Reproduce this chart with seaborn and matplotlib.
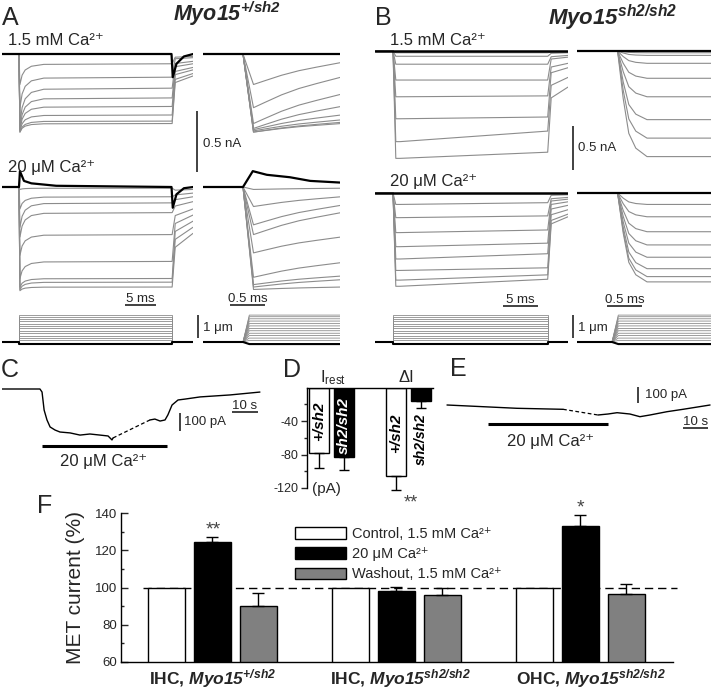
import matplotlib
matplotlib.use("Agg")
import matplotlib.pyplot as plt
from matplotlib.patches import Patch
import numpy as np
import pandas as pd
import seaborn as sns

# ------------------------------------------------------------------ data
# Panel A (Myo15 +/sh2): MET currents in nA (negative = inward), time in ms
A_hi_peak   = [-0.25, -0.44, -0.57, -0.61, -0.62, -0.63, -0.64, -0.64]
A_hi_steady = [-0.08, -0.19, -0.28, -0.36, -0.43, -0.50, -0.55, -0.57]
A_hi_tail   = [-0.02, -0.03, -0.06, -0.08, -0.11, -0.13, -0.16, -0.18]
A_hi_end    = [-0.07, -0.19, -0.33, -0.43, -0.50, -0.54, -0.56, -0.57]
A_lo_peak   = [-0.02, -0.18, -0.33, -0.41, -0.56, -0.75, -0.82, -0.84, -0.85]
A_lo_steady = [-0.01, -0.08, -0.13, -0.21, -0.39, -0.61, -0.75, -0.78, -0.82]
A_lo_tail   = [-0.02, -0.05, -0.08, -0.12, -0.18, -0.23, -0.28, -0.33, -0.38]
A_lo_speak  = [-0.02, -0.16, -0.31, -0.39, -0.54, -0.74, -0.80, -0.82, -0.84]
A_lo_end    = [-0.01, -0.08, -0.15, -0.21, -0.41, -0.62, -0.73, -0.76, -0.82]
A_hi_black_t  = [-2.8, 24.6, 24.8, 25.4, 26.6, 28.1]
A_hi_black_i  = [0.0, 0.0, -0.19, -0.08, -0.02, 0.0]
A_lo_black_t  = [-2.8, 0.0, 0.15, 0.8, 2.0, 6.0, 24.6, 24.8, 25.4, 26.6, 28.1]
A_lo_black_i  = [0.0, 0.0, 0.13, 0.05, 0.03, 0.01, 0.0, -0.17, -0.06, -0.01, 0.0]
A_lo_sblack_t = [-0.6, 0.0, 0.14, 0.34, 0.67, 0.96, 1.4]
A_lo_sblack_i = [0.0, 0.0, 0.13, 0.10, 0.08, 0.05, 0.036]

# Panel B (Myo15 sh2/sh2)
B_hi_start = [-0.02, -0.06, -0.15, -0.33, -0.52, -0.77, -1.03, -1.22]
B_hi_endv  = [-0.02, -0.06, -0.15, -0.33, -0.51, -0.75, -0.91, -1.15]
B_hi_tail  = [-0.01, -0.02, -0.05, -0.07, -0.14, -0.19, -0.30, -0.41]
B_hi_short = [-0.02, -0.05, -0.14, -0.31, -0.52, -0.78, -0.99, -1.20]
B_lo_start = [-0.13, -0.28, -0.45, -0.61, -0.75, -0.88, -0.99, -1.06]
B_lo_endv  = [-0.11, -0.26, -0.42, -0.57, -0.69, -0.85, -0.93, -0.98]
B_lo_tail  = [-0.02, -0.05, -0.07, -0.10, -0.14, -0.19, -0.24, -0.27]
B_lo_short = [-0.13, -0.27, -0.44, -0.59, -0.73, -0.86, -0.95, -1.01]

# hair-bundle displacement steps (um)
STEP_UM = [0.07, 0.17, 0.28, 0.38, 0.49, 0.59, 0.70, 0.80, 0.91, 1.01, 1.10, 1.17]
NEG_STEP_UM = -0.09
A_STEP_MS = 24.7
B_STEP_MS = 22.1

# time courses
LONG_T = [0.15, 0.5, 1.0, 2.0, 4.0]          # adaptation, fraction remaining
LONG_F = [1.0, 0.55, 0.30, 0.12, 0.03]
SHORT_T = [0.15, 0.3, 0.55, 0.8, 1.05, 1.4]
SHORT_F = [1.0, 0.84, 0.58, 0.37, 0.21, 0.0]
B_SHORT_T = [0.08, 0.16, 0.24, 0.34, 0.5, 1.45]  # activation, fraction of final
B_SHORT_F = [0.0, 0.45, 0.78, 0.92, 1.0, 1.0]

# Panel C: resting current (pA) vs time (s)
C_t1 = [0.0, 14.6, 15.4, 16.2, 17.3, 18.5, 20.4, 22.3, 26.2, 30.0, 33.8, 37.7, 40.8, 42.3, 42.7]
C_i1 = [0, 0, -17, -117, -172, -211, -228, -239, -244, -256, -250, -256, -261, -283, -272]
C_t2 = [56.9, 58.8, 60.8, 62.7, 63.8, 65.4, 67.7, 70.4, 76.2, 87.7, 99.2]
C_i2 = [-172, -167, -178, -172, -144, -89, -61, -56, -44, -33, -17]
# Panel E
E_t1 = [0.0, 15.5, 30.0, 49.8]
E_i1 = [0.0, -10.6, -20.6, -26.9]
E_t2 = [64.8, 69.1, 73.0, 78.5, 82.8, 87.1, 94.4, 101.3, 112.9]
E_i2 = [-62.5, -56.3, -48.1, -56.3, -73.1, -62.5, -41.9, -26.9, 0.0]

# Panel D (pA)
D_measure = ["Irest", "Irest", "dI", "dI"]
D_geno = ["+/sh2", "sh2/sh2", "+/sh2", "sh2/sh2"]
D_mean = [-78, -83, -106, -16]
D_sem = [18, 16, 16, 8]

# Panel F (%)
F_cells = ["IHC, +/sh2", "IHC, sh2/sh2", "OHC, sh2/sh2"]
CA_HI = "1.5 mM Ca\u00b2\u207a"
CA_LO = "20 \u03bcM Ca\u00b2\u207a"
F_conds = ["Control, 1.5 mM Ca\u00b2\u207a", CA_LO, "Washout, 1.5 mM Ca\u00b2\u207a"]
F_control = [100.0, 100.0, 100.0]
F_low = [124.4, 98.1, 133.0]
F_wash = [90.0, 96.0, 96.3]
F_low_sem = [2.6, 2.3, 5.8]
F_wash_sem = [6.9, 3.6, 5.4]

# ------------------------------------------------------------------ style
sns.set_theme(context="paper", style="white")
plt.rcParams.update({
    "font.family": ["Liberation Sans", "DejaVu Sans"],
    "mathtext.fontset": "custom",
    "mathtext.rm": "Liberation Sans",
    "mathtext.it": "Liberation Sans:italic",
    "mathtext.bf": "Liberation Sans:bold",
    "axes.unicode_minus": False,
})
try:
    plt.rcParams["mathtext.bfit"] = "Liberation Sans:italic:bold"
except KeyError:
    pass

GREY = "#8c8c8c"
W, H = 711, 689
fig = plt.figure(figsize=(W / 100, H / 100), dpi=100)
ov = fig.add_axes([0, 0, 1, 1])
ov.set_xlim(0, W); ov.set_ylim(H, 0); ov.axis("off"); ov.set_zorder(10)


def pax(x0, y0, x1, y1):
    return fig.add_axes([x0 / W, 1 - y1 / H, (x1 - x0) / W, (y1 - y0) / H])


def set_px_limits(ax, x0, x1, y0, y1, xt0, sx, yb, sy):
    ax.set_xlim((x0 - xt0) / sx, (x1 - xt0) / sx)
    ax.set_ylim(-(y1 - yb) / sy, (yb - y0) / sy)
    ax.axis("off")


def lines(ax, df, color, lw, **kw):
    sns.lineplot(data=df, x="t", y="i", units="trace", estimator=None, sort=False,
                 color=color, linewidth=lw, ax=ax, legend=False, **kw)


def single(t, i):
    return pd.DataFrame({"t": t, "i": i, "trace": 0})


def long_df(peak, s0, s1, tail, step_end, tlim, rt=LONG_T, rf=LONG_F):
    rows = []
    for k in range(len(s0)):
        ts = [tlim[0], 0.0]; vs = [0.0, 0.0]
        for tt, ff in zip(rt, rf):
            ts.append(tt); vs.append(s0[k] + (peak[k] - s0[k]) * ff)
        ts += [step_end, step_end + 0.5, tlim[1]]
        vs += [s1[k], tail[k] * 1.3, tail[k]]
        rows += [dict(t=a, i=b, trace=k) for a, b in zip(ts, vs)]
    return pd.DataFrame(rows)


def short_adapt_df(peak, end, tlim):
    rows = []
    for k in range(len(end)):
        ts = [tlim[0], 0.0] + SHORT_T
        vs = [0.0, 0.0] + [end[k] + (peak[k] - end[k]) * f for f in SHORT_F]
        rows += [dict(t=a, i=b, trace=k) for a, b in zip(ts, vs)]
    return pd.DataFrame(rows)


def short_act_df(end, tlim):
    rows = []
    for k in range(len(end)):
        ts = [tlim[0]] + B_SHORT_T
        vs = [0.0] + [end[k] * f for f in B_SHORT_F]
        rows += [dict(t=a, i=b, trace=k) for a, b in zip(ts, vs)]
    return pd.DataFrame(rows)


def stim_long(steps, step_end, tlim):
    rows = []
    for k, d in enumerate(steps):
        ts = [tlim[0], 0, 0, step_end, step_end, tlim[1]]
        vs = [0, 0, d, d, 0, 0]
        rows += [dict(t=a, i=b, trace=k) for a, b in zip(ts, vs)]
    return pd.DataFrame(rows)


def stim_short(steps, tlim):
    rows = []
    for k, d in enumerate(steps):
        ts = [tlim[0], 0.0, 0.09, tlim[1]]
        vs = [0, 0, d, d]
        rows += [dict(t=a, i=b, trace=k) for a, b in zip(ts, vs)]
    return pd.DataFrame(rows)


# --------------------------------------------------------- panel A traces
geomA = dict(long=(2, 193, 19, 6.2), short=(203, 340, 243, 70.0))
geomB = dict(long=(375, 568, 393, 7.0), short=(577, 711, 612, 70.0))


def tl(g):
    x0, x1, xt0, sx = g
    return ((x0 - xt0) / sx, (x1 - xt0) / sx)


# A, 1.5 mM long
ax = pax(2, 40, 193, 140)
lines(ax, long_df(A_hi_peak, A_hi_steady, A_hi_steady, A_hi_tail, A_STEP_MS, tl(geomA["long"])), GREY, 0.8)
lines(ax, single(A_hi_black_t, A_hi_black_i), "black", 1.6)
set_px_limits(ax, 2, 193, 40, 140, 19, 6.2, 54, 122)
# A, 1.5 mM short
ax = pax(203, 40, 340, 140)
lines(ax, short_adapt_df(A_hi_peak, A_hi_end, tl(geomA["short"])), GREY, 0.8)
lines(ax, single(list(tl(geomA["short"])), [0, 0]), "black", 1.6)
set_px_limits(ax, 203, 340, 40, 140, 243, 70, 54, 122)
# A, 20 uM long
ax = pax(2, 165, 193, 300)
lines(ax, long_df(A_lo_peak, A_lo_steady, A_lo_steady, A_lo_tail, A_STEP_MS, tl(geomA["long"])), GREY, 0.8)
lines(ax, single(A_lo_black_t, A_lo_black_i), "black", 1.6)
set_px_limits(ax, 2, 193, 165, 300, 19, 6.2, 187, 122)
# A, 20 uM short
ax = pax(203, 165, 340, 300)
lines(ax, short_adapt_df(A_lo_speak, A_lo_end, tl(geomA["short"])), GREY, 0.8)
lines(ax, single(A_lo_sblack_t, A_lo_sblack_i), "black", 1.6)
set_px_limits(ax, 203, 340, 165, 300, 243, 70, 187, 122)

# --------------------------------------------------------- panel B traces
ax = pax(375, 40, 568, 175)
lines(ax, long_df(B_hi_start, B_hi_start, B_hi_endv, B_hi_tail, B_STEP_MS, tl(geomB["long"]),
                  rt=[0.4, 1.0], rf=[1.0, 1.0]), GREY, 0.8)
lines(ax, single(list(tl(geomB["long"])), [0, 0]), "black", 1.8)
set_px_limits(ax, 375, 568, 40, 175, 393, 7.0, 51, 88)
ax = pax(577, 40, 711, 175)
lines(ax, short_act_df(B_hi_short, tl(geomB["short"])), GREY, 0.8)
lines(ax, single(list(tl(geomB["short"])), [0, 0]), "black", 1.6)
set_px_limits(ax, 577, 711, 40, 175, 612, 70, 51, 88)
ax = pax(375, 180, 568, 300)
lines(ax, long_df(B_lo_start, B_lo_start, B_lo_endv, B_lo_tail, B_STEP_MS, tl(geomB["long"]),
                  rt=[0.4, 1.0], rf=[1.0, 1.0]), GREY, 0.8)
lines(ax, single(list(tl(geomB["long"])), [0, 0]), "black", 1.8)
set_px_limits(ax, 375, 568, 180, 300, 393, 7.0, 193, 88)
ax = pax(577, 180, 711, 300)
lines(ax, short_act_df(B_lo_short, tl(geomB["short"])), GREY, 0.8)
lines(ax, single(list(tl(geomB["short"])), [0, 0]), "black", 1.6)
set_px_limits(ax, 577, 711, 180, 300, 612, 70, 193, 88)

# --------------------------------------------------------- stimuli
for g, step_end in ((geomA, A_STEP_MS), (geomB, B_STEP_MS)):
    x0, x1, xt0, sx = g["long"]
    ax = pax(x0, 305, x1, 350)
    lines(ax, stim_long(STEP_UM, step_end, tl(g["long"])), GREY, 0.6)
    lines(ax, stim_long([NEG_STEP_UM], step_end, tl(g["long"])), "black", 1.5)
    set_px_limits(ax, x0, x1, 305, 350, xt0, sx, 342, 23)
    x0, x1, xt0, sx = g["short"]
    ax = pax(x0, 305, x1, 350)
    lines(ax, stim_short(STEP_UM, tl(g["short"])), GREY, 0.6)
    lines(ax, stim_short([NEG_STEP_UM], tl(g["short"])), "black", 1.5)
    set_px_limits(ax, x0, x1, 305, 350, xt0, sx, 342, 23)

# --------------------------------------------------------- panel C / E
ax = pax(2, 375, 262, 455)
lines(ax, single(C_t1, C_i1), "black", 1.0)
lines(ax, single(C_t2, C_i2), "black", 1.0)
lines(ax, single([C_t1[-1], C_t2[0]], [C_i1[-1], C_i2[0]]), "black", 0.9, linestyle=(0, (3, 2)))
set_px_limits(ax, 2, 262, 375, 455, 2, 2.6, 389, 0.18)

ax = pax(445, 380, 711, 430)
lines(ax, single(E_t1, E_i1), "black", 1.0)
lines(ax, single(E_t2, E_i2), "black", 1.0)
lines(ax, single([E_t1[-1], E_t2[0]], [E_i1[-1], E_i2[0]]), "black", 0.9, linestyle=(0, (3, 2)))
set_px_limits(ax, 445, 711, 380, 430, 447, 2.33, 405, 0.16)

# --------------------------------------------------------- panel D
axD = pax(307, 387.5, 433, 488)
axD.set_facecolor("none")
dfD = pd.DataFrame({"measure": D_measure, "geno": D_geno, "val": D_mean})
sns.barplot(data=dfD, x="measure", y="val", hue="geno", order=["Irest", "dI"],
            hue_order=["+/sh2", "sh2/sh2"], palette={"+/sh2": "white", "sh2/sh2": "black"},
            edgecolor="black", linewidth=1.0, width=0.65, gap=0.2, errorbar=None,
            ax=axD, legend=False)
xD = {("Irest", "+/sh2"): -0.1625, ("Irest", "sh2/sh2"): 0.1625,
      ("dI", "+/sh2"): 0.8375, ("dI", "sh2/sh2"): 1.1625}
for m, g, v, e in zip(D_measure, D_geno, D_mean, D_sem):
    axD.errorbar(xD[(m, g)], v, yerr=[[e], [0]], fmt="none", ecolor="black",
                 elinewidth=1.0, capsize=3.5, capthick=1.0, clip_on=False)
axD.set_xlim(-0.319, 1.322)
axD.set_ylim(-120, 0)
axD.set_yticks([-120, -80, -40])
axD.set_yticks([-100, -60, -20], minor=True)
axD.tick_params(axis="y", which="both", direction="out", labelsize=9, width=1, pad=2, left=True)
axD.tick_params(axis="y", which="major", length=4)
axD.tick_params(axis="y", which="minor", length=2.5)
axD.set_xticks([])
axD.set_xlabel(""); axD.set_ylabel("")
for s in ("right", "bottom"):
    axD.spines[s].set_visible(False)
for s in ("left", "top"):
    axD.spines[s].set_visible(True); axD.spines[s].set_color("black"); axD.spines[s].set_linewidth(1.0)
lab = dict(rotation=90, ha="center", va="center", fontweight="bold", style="italic")
axD.text(-0.1625, -40, "+/sh2", color="black", fontsize=11, **lab)
axD.text(0.1625, -45, "sh2/sh2", color="white", fontsize=11, **lab)
axD.text(0.8375, -55, "+/sh2", color="black", fontsize=11, **lab)
axD.text(1.1625, -62, "sh2/sh2", color="black", fontsize=10, **lab)

# --------------------------------------------------------- panel F
axF = pax(121, 513, 673, 662)
axF.set_facecolor("none")
dfF = pd.DataFrame({
    "cell": F_cells * 3,
    "cond": [F_conds[0]] * 3 + [F_conds[1]] * 3 + [F_conds[2]] * 3,
    "val": F_control + F_low + F_wash,
})
F_colors = ["white", "black", "#808080"]
sns.barplot(data=dfF, x="cell", y="val", hue="cond", order=F_cells, hue_order=F_conds,
            palette=F_colors, edgecolor="black", linewidth=1.0, width=0.75, gap=0.2,
            errorbar=None, ax=axF, legend=False, zorder=2)
for j, (vals, sems) in enumerate(((F_low, F_low_sem), (F_wash, F_wash_sem)), start=1):
    for i in range(3):
        axF.errorbar(i + (j - 1) * 0.25, vals[i], yerr=[[0], [sems[i]]], fmt="none",
                     ecolor="black", elinewidth=1.0, capsize=4, capthick=1.0, zorder=3)
axF.plot([-0.378, 2.524], [100, 100], color="black", lw=1.0, ls=(0, (6, 3.5)),
         clip_on=False, zorder=1)
axF.set_xlim(-0.497, 2.503)
axF.set_ylim(60, 140)
axF.set_yticks([60, 80, 100, 120, 140])
axF.set_yticks([70, 90, 110, 130], minor=True)
axF.tick_params(axis="y", which="both", direction="in", labelsize=9.5, width=1, left=True, pad=3)
axF.tick_params(axis="y", which="major", length=4.8)
axF.tick_params(axis="y", which="minor", length=2.5)
myo_p = r"$\mathbfit{Myo15}^{\mathbfit{+/sh2}}$"
myo_s = r"$\mathbfit{Myo15}^{\mathbfit{sh2/sh2}}$"
axF.set_xticks([0, (401 - 212.5) / 184, (591 - 212.5) / 184])
axF.set_xticklabels(["IHC, " + myo_p, "IHC, " + myo_s, "OHC, " + myo_s],
                    fontsize=12.5, fontweight="bold")
axF.tick_params(axis="x", length=0, pad=4)
axF.set_xlabel("")
axF.set_ylabel("MET current (%)", fontsize=15, labelpad=7)
for s in ("right", "top"):
    axF.spines[s].set_visible(False)
for s in ("left", "bottom"):
    axF.spines[s].set_visible(True); axF.spines[s].set_color("black"); axF.spines[s].set_linewidth(1.0)
handles = [Patch(facecolor=c, edgecolor="black", linewidth=1.0) for c in F_colors]
axF.legend(handles, F_conds, loc="upper left", bbox_to_anchor=(295 / W, 1 - 527 / H),
           bbox_transform=fig.transFigure, frameon=False, borderpad=0, borderaxespad=0,
           handlelength=3.5, handleheight=0.8, handletextpad=0.4, labelspacing=0.42,
           fontsize=10.5)

# --------------------------------------------------------- annotations
big = dict(fontsize=18, va="baseline")
ov.text(2, 25, "A", **big)
ov.text(375, 25, "B", **big)
ov.text(1, 377, "C", **big)
ov.text(283, 377, "D", **big)
ov.text(450, 376, "E", **big)
ov.text(37, 513, "F", **big)
ov.text(173, 21.5, myo_p, fontsize=15.5, va="baseline")
ov.text(548, 25, myo_s, fontsize=16, va="baseline")
cond = dict(fontsize=12, va="baseline")
ov.text(8, 45, CA_HI, **cond)
ov.text(8, 172, CA_LO, **cond)
ov.text(390, 45, CA_HI, **cond)
ov.text(390, 186, CA_LO, **cond)

sb = dict(color="#333333", lw=1.3, solid_capstyle="butt")
small = dict(fontsize=9.5)
# A scale bars
ov.plot([197, 197], [111, 172], **sb); ov.text(203, 144, "0.5 nA", va="center", **small)
ov.plot([125, 156], [305, 305], **sb); ov.text(140.5, 302, "5 ms", ha="center", va="baseline", **small)
ov.plot([230, 265], [305, 305], **sb); ov.text(247.5, 302, "0.5 ms", ha="center", va="baseline", **small)
ov.plot([198, 198], [315, 338], **sb); ov.text(203, 328, "1 \u03bcm", va="center", **small)
# B scale bars
ov.plot([573, 573], [126, 170], **sb); ov.text(578, 148, "0.5 nA", va="center", **small)
ov.plot([503, 538], [306, 306], **sb); ov.text(520.5, 303, "5 ms", ha="center", va="baseline", **small)
ov.plot([607, 642], [306, 306], **sb); ov.text(624.5, 303, "0.5 ms", ha="center", va="baseline", **small)
ov.plot([573, 573], [315, 338], **sb); ov.text(578, 328, "1 \u03bcm", va="center", **small)
# C annotations
ov.plot([232, 258], [412, 412], **sb); ov.text(245, 409, "10 s", ha="center", va="baseline", **small)
ov.plot([180, 180], [413, 431], **sb); ov.text(184, 422, "100 pA", va="center", **small)
ov.plot([42, 167], [446, 446], color="black", lw=2.2, solid_capstyle="butt")
ov.text(104, 466, CA_LO, ha="center", va="baseline", fontsize=12)
# D annotations
ov.text(333, 382, r"I$_{\mathrm{rest}}$", ha="center", va="baseline", fontsize=12)
ov.text(406, 382, "\u0394I", ha="center", va="baseline", fontsize=12)
ov.text(312, 489, "(pA)", va="center", fontsize=11)
ov.text(411, 503, "**", ha="center", va="center", fontsize=13, color="#444444")
# E annotations
ov.plot([638, 638], [387, 403], **sb); ov.text(645, 395, "100 pA", va="center", **small)
ov.plot([683, 708], [428, 428], **sb); ov.text(695.5, 425, "10 s", ha="center", va="baseline", **small)
ov.plot([488, 608], [424, 424], color="black", lw=2.2, solid_capstyle="butt")
ov.text(551, 446, CA_LO, ha="center", va="baseline", fontsize=12)
# F asterisks
ov.text(213, 530, "**", ha="center", va="center", fontsize=14, color="#444444")
ov.text(580, 508, "*", ha="center", va="center", fontsize=14, color="#444444")

fig.savefig("out.png", dpi=100)
